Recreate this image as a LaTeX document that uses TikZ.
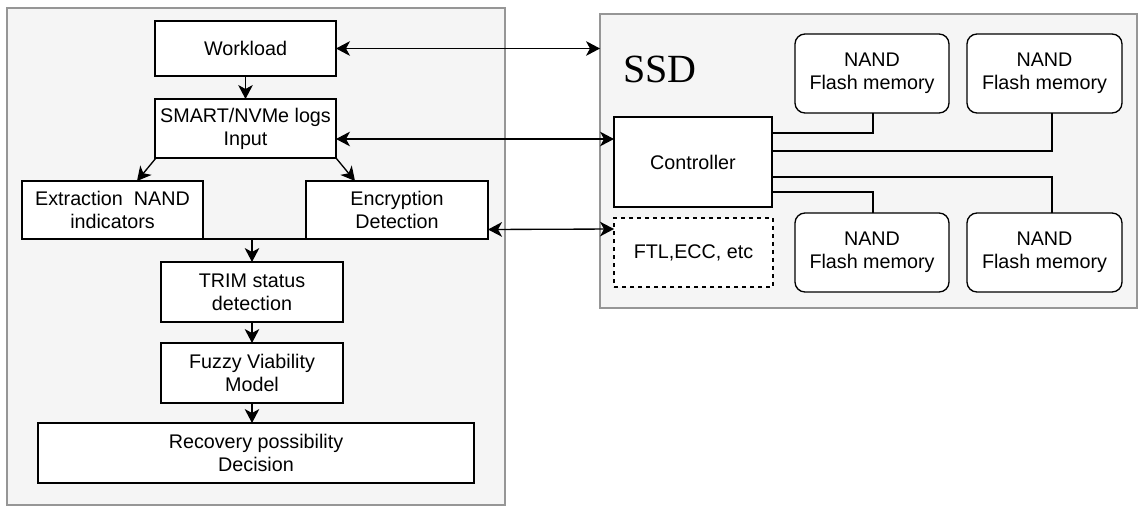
\documentclass[tikz,border=0pt]{standalone}
\usepackage{fontspec}
\setmainfont{Liberation Sans}
\newfontfamily\ssdfont{Liberation Serif}
\usetikzlibrary{arrows.meta,calc}
\definecolor{panelgray}{RGB}{150,150,150}
\definecolor{panelfill}{RGB}{245,245,245}
\begin{document}
\begin{tikzpicture}[x=0.75pt,y=-0.75pt,
  font=\fontsize{14.8pt}{17.2pt}\selectfont,
  panel/.style={draw=panelgray, fill=panelfill, line width=1.1pt, inner sep=0pt, outer sep=0pt},
  box/.style={draw=black, fill=white, line width=1pt, align=center, inner sep=0pt, outer sep=0pt},
  nandbox/.style={box, rounded corners=7.5pt},
  link/.style={line width=1pt},
  tip/.tip={Stealth[length=10.5pt,width=11pt,inset=3pt]},
  arr/.style={link, -tip},
  darr/.style={link, tip-tip},
]
\useasboundingbox[fill=white] (0,0) rectangle (1144,511);

% panels
\node[panel, minimum width=498*0.75pt, minimum height=497*0.75pt] (left) at (256,256.5) {};
\node[panel, minimum width=537*0.75pt, minimum height=294*0.75pt] (ssd) at (868.5,161) {};

% left column
\node[box, minimum width=181*0.75pt, minimum height=55*0.75pt] (workload) at (245.5,48.5) {Workload};
\node[box, minimum width=181*0.75pt, minimum height=59*0.75pt] (smart) at (245.5,128.5) {SMART/NVMe logs\\Input};
\node[box, minimum width=181*0.75pt, minimum height=58*0.75pt] (extr) at (112.5,210) {Extraction\ \ NAND\\indicators};
\node[box, minimum width=182*0.75pt, minimum height=58*0.75pt] (encr) at (397,210) {Encryption\\Detection};
\node[box, minimum width=182*0.75pt, minimum height=60*0.75pt] (trim) at (252,292) {TRIM status\\detection};
\node[box, minimum width=182*0.75pt, minimum height=60*0.75pt] (fuzzy) at (252,373) {Fuzzy Viability\\Model};
\node[box, minimum width=436*0.75pt, minimum height=60*0.75pt] (recov) at (256,453) {Recovery possibility\\Decision};

% SSD
\node[anchor=base west, inner sep=0pt, font=\ssdfont\fontsize{30pt}{34pt}\selectfont] (ssdlabel) at (623,82) {SSD};
\node[box, minimum width=158*0.75pt, minimum height=90*0.75pt] (ctrl) at (693,162) {Controller};
\node[box, dashed, minimum width=159*0.75pt, minimum height=69*0.75pt] (ftl) at (693.5,252.5) {FTL,ECC, etc};
\node[nandbox, minimum width=154*0.75pt, minimum height=79*0.75pt] (nand1) at (872,73.5) {NAND\\Flash memory};
\node[nandbox, minimum width=155*0.75pt, minimum height=79*0.75pt] (nand2) at (1044.5,73.5) {NAND\\Flash memory};
\node[nandbox, minimum width=154*0.75pt, minimum height=79*0.75pt] (nand3) at (872,252.5) {NAND\\Flash memory};
\node[nandbox, minimum width=155*0.75pt, minimum height=79*0.75pt] (nand4) at (1044.5,252.5) {NAND\\Flash memory};

% controller links
\draw[link] ($(nand1.south)+(1,0)$) |- ($(ctrl.east)+(0,-29)$);
\draw[link] ($(nand2.south)+(7.5,0)$) |- ($(ctrl.east)+(0,-11)$);
\draw[link] ($(nand4.north)+(7.5,0)$) |- ($(ctrl.east)+(0,15)$);
\draw[link] ($(nand3.north)+(1,0)$) |- ($(ctrl.east)+(0,30)$);

% cross arrows
\draw[darr] (workload.east) -- (workload.east -| ssd.west);
\draw[darr] ($(smart.east)+(0,10.5)$) -- ($(ctrl.west)+(0,-23)$);
\draw[darr] ($(encr.east)+(0,19.5)$) -- ($(ftl.west)+(0,-23.5)$);

% left flow
\draw[arr] (workload) -- (smart);
\draw[arr] ($(smart.south west)+(1,0)$) -- ($(extr.north)+(24.5,0)$);
\draw[arr] (smart.south east) -- ($(encr.north)+(-42,0)$);
\draw[link] (extr.south east) -- (encr.south west);
\draw[arr] (extr.south east -| trim.north) -- (trim.north);
\draw[arr] (trim) -- (fuzzy);
\draw[arr] (fuzzy.south) -- (fuzzy.south |- recov.north);
\end{tikzpicture}
\end{document}
